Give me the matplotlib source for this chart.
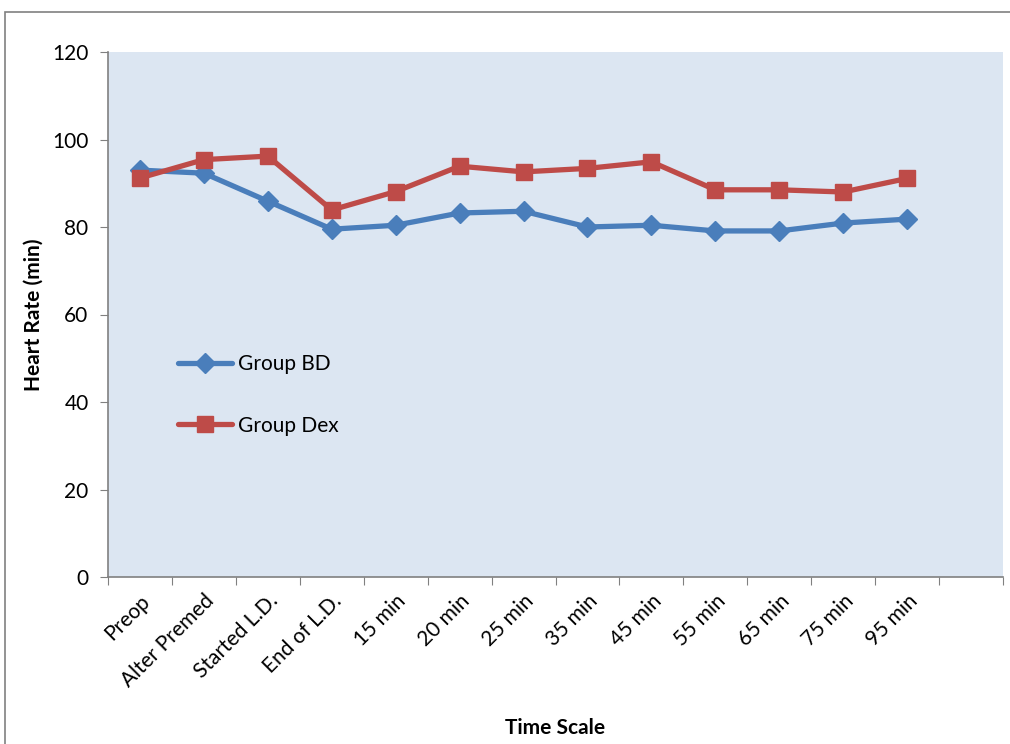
import matplotlib
matplotlib.use("Agg")
import matplotlib.pyplot as plt
from matplotlib.patches import Rectangle

plt.rcParams['font.family'] = ['Lato', 'DejaVu Sans']

categories = ["Preop", "Alter Premed", "Started L.D.", "End of L.D.", "15 min", "20 min",
              "25 min", "35 min", "45 min", "55 min", "65 min", "75 min", "95 min"]
group_bd = [93.0, 92.3, 85.9, 79.5, 80.4, 83.2, 83.6, 80.0, 80.4, 79.1, 79.1, 80.9, 81.8]
group_dex = [91.2, 95.4, 96.2, 83.9, 88.1, 93.9, 92.6, 93.4, 94.9, 88.5, 88.5, 88.0, 91.1]
n_slots = 14

fig = plt.figure(figsize=(10.10, 7.44), dpi=100)
fig.patches.append(Rectangle((5/1010, -0.1), 1.2, 1 - 12/744 + 0.1, transform=fig.transFigure,
                             fill=False, edgecolor='#808080', linewidth=1.2))
ax = fig.add_axes([108/1010, 1 - 577/744, (1003-108)/1010, (577-52)/744])
ax.set_facecolor('#DCE6F2')

x = list(range(len(categories)))
ax.plot(x, group_bd, color='#4A7EBB', linewidth=3.8, marker='D', markersize=10,
        label='Group BD', solid_capstyle='round')
ax.plot(x, group_dex, color='#BE4B48', linewidth=3.8, marker='s', markersize=12,
        label='Group Dex', solid_capstyle='round')

ax.set_xlim(-0.5, n_slots - 0.5)
ax.set_ylim(0, 120)
ax.set_yticks(range(0, 121, 20))
ax.set_xticks([i - 0.5 for i in range(n_slots + 1)], minor=False)
ax.set_xticklabels([])
ax.set_xticks(x, minor=True)
ax.set_xticklabels(categories, minor=True, rotation=45, ha='right', rotation_mode='anchor',
                   fontsize=15)
ax.tick_params(axis='x', which='minor', length=0, pad=10)
ax.tick_params(axis='x', which='major', length=6, color='#808080', direction='out')
ax.tick_params(axis='y', length=6, color='#808080', direction='out', labelsize=15, pad=8)

for s in ['top', 'right']:
    ax.spines[s].set_visible(False)
for s in ['left', 'bottom']:
    ax.spines[s].set_color('#808080')
    ax.spines[s].set_linewidth(1.2)

ax.set_ylabel('Heart Rate (min)', fontsize=15, fontweight='bold', labelpad=6)
ax.set_xlabel('Time Scale', fontsize=15, fontweight='bold', labelpad=19)

ax.legend(loc='upper left', bbox_to_anchor=(0.078, 0.425), frameon=False, fontsize=15,
          labelspacing=2.0, handlelength=2.6, handletextpad=0.3, borderaxespad=0, borderpad=0)

fig.savefig('out.png', dpi=100)
